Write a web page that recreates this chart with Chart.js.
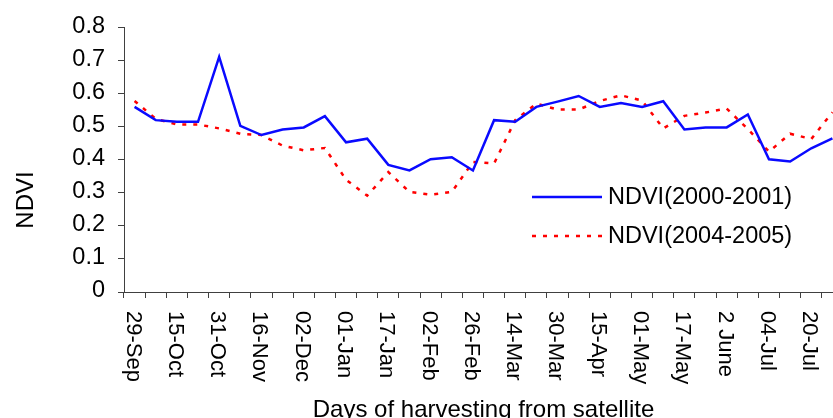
<!DOCTYPE html>
<html>
<head>
<meta charset="utf-8">
<script src="https://cdn.jsdelivr.net/npm/chart.js@4.4.1/dist/chart.umd.min.js"></script>
<style>
    html, body { margin: 0; padding: 0; background: #fff; overflow: hidden; }
    #wrap { position: relative; width: 850px; height: 418px; }
</style>
</head>
<body>
<div id="wrap"><canvas id="ndviChart"></canvas></div>
<script>
// Tarih etiketleri (her iki noktada bir)
const tickLabels = ['29-Sep', '15-Oct', '31-Oct', '16-Nov', '02-Dec', '01-Jan', '17-Jan', '02-Feb',
    '26-Feb', '14-Mar', '30-Mar', '15-Apr', '01-May', '17-May', '2 June', '04-Jul', '20-Jul'];

// NDVI degerleri
const ndvi2000 = [0.559, 0.519, 0.514, 0.514, 0.710, 0.502, 0.474, 0.491, 0.497, 0.531,
    0.452, 0.463, 0.384, 0.367, 0.401, 0.407, 0.367, 0.519, 0.514, 0.559,
    0.575, 0.592, 0.559, 0.571, 0.559, 0.576, 0.491, 0.497, 0.497, 0.536,
    0.401, 0.394, 0.434, 0.464];
const ndvi2004 = [0.577, 0.523, 0.506, 0.506, 0.494, 0.478, 0.474, 0.442, 0.428, 0.435,
    0.339, 0.291, 0.362, 0.302, 0.294, 0.302, 0.393, 0.388, 0.519, 0.569,
    0.551, 0.551, 0.577, 0.594, 0.578, 0.494, 0.532, 0.542, 0.554, 0.492,
    0.424, 0.478, 0.462, 0.543];

const yTicks = [0, 0.1, 0.2, 0.3, 0.4, 0.5, 0.6, 0.7, 0.8];

// Kategori listesi: etiketler arasina bos kategori
const categories = [];
tickLabels.forEach(l => { categories.push(l); categories.push(''); });

const FONT = '"Liberation Sans", Arial, sans-serif';
const AXIS_COLOR = '#404040';

// Eksen yazilari ve lejant
const textPlugin = {
    id: 'textPlugin',
    afterDraw(chart) {
        const ctx = chart.ctx;
        const area = chart.chartArea;
        const xs = chart.scales.x;
        ctx.save();
        ctx.fillStyle = '#000';

        // x etiketleri, saat yonunde dondurulmus
        ctx.font = '22px ' + FONT;
        categories.forEach((lab, i) => {
            if (!lab) return;
            const px = xs.getPixelForTick(i);
            ctx.save();
            ctx.translate(px - 2, area.bottom + 19);
            ctx.rotate(Math.PI / 2);
            ctx.textAlign = 'left';
            ctx.textBaseline = 'middle';
            ctx.fillText(lab, 0, 0);
            ctx.restore();
        });

        // x baslik
        ctx.font = '24px ' + FONT;
        ctx.textAlign = 'center';
        ctx.textBaseline = 'alphabetic';
        ctx.fillText('Days of harvesting from satellite', (area.left + area.right) / 2, 417);

        // y baslik
        ctx.save();
        ctx.translate(33, 200);
        ctx.rotate(-Math.PI / 2);
        ctx.textAlign = 'center';
        ctx.textBaseline = 'alphabetic';
        ctx.fillText('NDVI', 0, 0);
        ctx.restore();

        // lejant
        ctx.font = '23.5px ' + FONT;
        ctx.textAlign = 'left';
        ctx.textBaseline = 'middle';
        chart.data.datasets.forEach((ds, i) => {
            const y = 197 + i * 39;
            ctx.save();
            ctx.strokeStyle = ds.borderColor;
            ctx.lineWidth = ds.borderWidth;
            ctx.setLineDash(ds.borderDash || []);
            ctx.beginPath();
            ctx.moveTo(532, y);
            ctx.lineTo(602, y);
            ctx.stroke();
            ctx.restore();
            ctx.fillText(ds.label, 608, y + 1);
        });
        ctx.restore();
    }
};

const ctx = document.getElementById('ndviChart').getContext('2d');
new Chart(ctx, {
    type: 'line',
    data: {
        labels: categories,
        datasets: [{
            label: 'NDVI(2000-2001)',
            data: ndvi2000,
            borderColor: '#0a0aff',
            borderWidth: 2.5,
            pointRadius: 0,
            tension: 0,
            fill: false
        }, {
            label: 'NDVI(2004-2005)',
            data: ndvi2004,
            borderColor: '#ff0000',
            borderWidth: 2.5,
            borderDash: [4, 7],
            pointRadius: 0,
            tension: 0,
            fill: false
        }]
    },
    options: {
        responsive: true,
        maintainAspectRatio: false,
        animation: false,
        layout: { padding: { top: 24, right: 7, left: 0, bottom: 0 } },
        plugins: {
            legend: { display: false },
            tooltip: { enabled: false }
        },
        scales: {
            x: {
                type: 'category',
                offset: true,
                grid: {
                    offset: true,
                    drawOnChartArea: false,
                    drawTicks: true,
                    tickLength: 6,
                    color: AXIS_COLOR
                },
                border: { display: true, color: AXIS_COLOR, width: 1 },
                ticks: { display: false, autoSkip: false },
                afterFit: function(scale) { scale.height = 126; }
            },
            y: {
                min: 0,
                max: 0.8,
                afterBuildTicks: function(scale) {
                    scale.ticks = yTicks.map(v => ({ value: v }));
                },
                grid: {
                    drawOnChartArea: false,
                    drawTicks: true,
                    tickLength: 6,
                    color: AXIS_COLOR
                },
                border: { display: true, color: AXIS_COLOR, width: 1 },
                ticks: {
                    color: '#000',
                    padding: 13,
                    labelOffset: -1,
                    font: { family: FONT, size: 23.5 },
                    callback: function(value) { return String(+value.toFixed(1)); }
                },
                afterFit: function(scale) { scale.width = 124; }
            }
        }
    },
    plugins: [textPlugin]
});
</script>
</body>
</html>
